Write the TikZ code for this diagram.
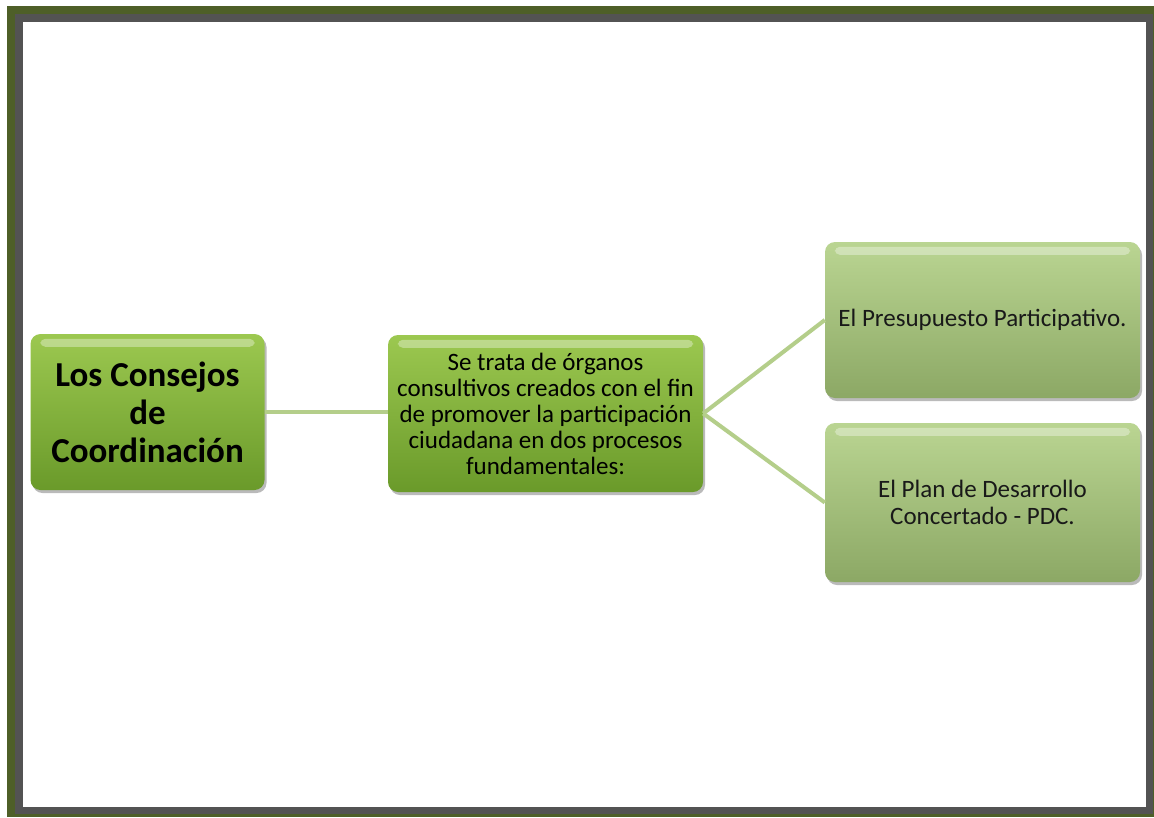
\documentclass[tikz,border=0pt]{standalone}
\usepackage{fontspec}
\setmainfont{Carlito}
\usetikzlibrary{shadows,calc}
\definecolor{frameg}{HTML}{4E5F28}
\definecolor{frameshade}{HTML}{535353}
\definecolor{darktop}{HTML}{9CC850}
\definecolor{darkbot}{HTML}{6A9A2A}
\definecolor{lighttop}{HTML}{BAD592}
\definecolor{lightbot}{HTML}{8CA865}
\definecolor{linkc}{HTML}{B4CE8A}
\tikzset{
  boxbase/.style={rounded corners=10pt, draw=none, align=center,
    drop shadow={shadow xshift=2pt, shadow yshift=-3pt, opacity=0.45, fill=black!60},
    inner sep=0pt},
  darkbox/.style={boxbase, top color=darktop, bottom color=darkbot},
  lightbox/.style={boxbase, top color=lighttop, bottom color=lightbot},
  link/.style={draw=linkc, line width=4pt},
  shine/.style={fill=white, opacity=0.35, rounded corners=5pt}
}
\begin{document}
\begin{tikzpicture}[x=1pt,y=-1pt]
\useasboundingbox (0,0) rectangle (1154,817);
\fill[white] (0,0) rectangle (1154,817);
\fill[frameg] (7,6) rectangle (1154,817);
\fill[frameshade] (15,14) rectangle (1153,814);
\fill[white] (23,22) rectangle (1146,807);
% boxes
\node[darkbox, minimum width=234pt, minimum height=156pt] (a) at (147.5,412) {};
\node[darkbox, minimum width=315pt, minimum height=157pt] (b) at (545.5,413.5) {};
\node[lightbox, minimum width=315pt, minimum height=156pt] (c) at (982.5,320) {};
\node[lightbox, minimum width=315pt, minimum height=159pt] (d) at (982.5,502.5) {};
\foreach \n in {a,b,c,d}{
  \fill[shine] ($(\n.north west)+(10,5)$) rectangle ($(\n.north east)+(-10,13)$);
}
% texts
\node[font=\fontsize{35}{38}\selectfont\bfseries, align=center] (ta) at (a.center) {Los Consejos\\de\\Coordinación};
\node[font=\fontsize{25}{26}\selectfont, align=center] (tb) at (b.center) {Se trata de órganos\\consultivos creados con el fin\\de promover la participación\\ciudadana en dos procesos\\fundamentales:};
\node[font=\fontsize{25}{27}\selectfont, align=center, text=black!90] (tc) at (c.center) {El Presupuesto Participativo.};
\node[font=\fontsize{25}{27}\selectfont, align=center, text=black!90] (td) at (d.center) {El Plan de Desarrollo\\Concertado - PDC.};
% links
\draw[link] (a.east |- 0,412) -- (b.west |- 0,412);
\draw[link] (b.east) -- (c.west);
\draw[link] (b.east) -- (d.west);
\end{tikzpicture}
\end{document}
